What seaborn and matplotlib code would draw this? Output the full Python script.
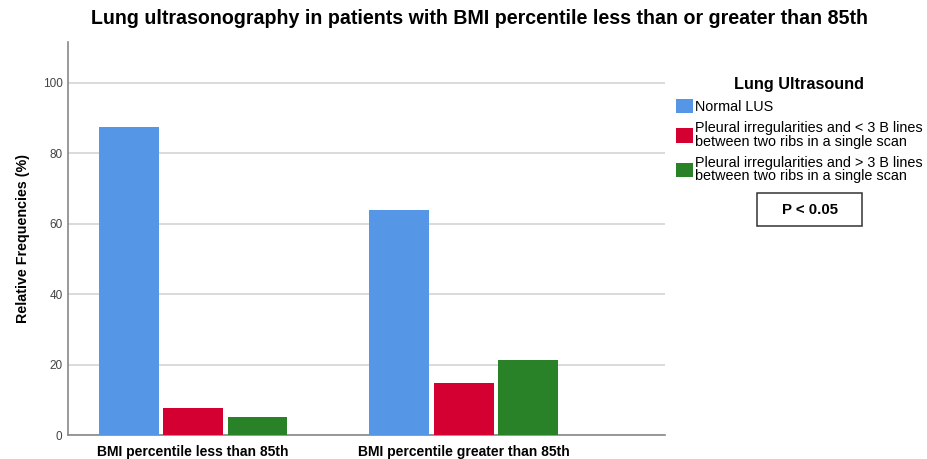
import matplotlib
matplotlib.use("Agg")
import matplotlib.pyplot as plt
import seaborn as sns
import pandas as pd
from matplotlib.patches import Patch, Rectangle

categories = ["BMI percentile less than 85th", "BMI percentile greater than 85th"]
series = ["Normal LUS",
          "Pleural irregularities and < 3 B lines\nbetween two ribs in a single scan",
          "Pleural irregularities and > 3 B lines\nbetween two ribs in a single scan"]
normal_lus = [87.3, 63.9]
less_3b = [7.6, 14.7]
more_3b = [5.0, 21.2]
colors = ["#5596E6", "#D50032", "#2A8228"]

rows = []
for s, vals in zip(series, [normal_lus, less_3b, more_3b]):
    for c, v in zip(categories, vals):
        rows.append({"BMI": c, "LUS": s, "pct": v})
df = pd.DataFrame(rows)

sns.set_style("white")
plt.rcParams["font.family"] = ["Liberation Sans", "DejaVu Sans"]
plt.rcParams["text.color"] = "black"

fig = plt.figure(figsize=(9.27, 4.59), dpi=100)
ax = fig.add_axes([68/927, 24/459, (665-68)/927, (435-42)/459])
ax.yaxis.grid(True, color="#d4d4d4", linewidth=1.2, zorder=0)
ax.set_axisbelow(True)
sns.barplot(data=df, x="BMI", y="pct", hue="LUS", order=categories, hue_order=series,
            palette=colors, saturation=1, width=0.714, gap=0.07, ax=ax, legend=False,
            edgecolor="none", zorder=3)
ax.set_xlim(-0.462, 1.743)
ax.set_ylim(0, 111.5)
ax.set_yticks([0, 20, 40, 60, 80, 100])
ax.tick_params(axis="y", labelsize=8.5, colors="#444444", length=0, pad=4)
ax.tick_params(axis="x", length=0, pad=7)
for lab in ax.get_xticklabels():
    lab.set_fontweight("bold")
    lab.set_fontsize(10)
    lab.set_color("black")
for side in ["top", "right"]:
    ax.spines[side].set_visible(False)
for side in ["left", "bottom"]:
    ax.spines[side].set_color("#888888")
    ax.spines[side].set_linewidth(1.2)
ax.set_xlabel("")
ax.set_ylabel("Relative Frequencies (%)", fontsize=10.3, fontweight="bold", labelpad=9,
              color="black")

fig.text(479.5/927, 1-19/459,
         "Lung ultrasonography in patients with BMI percentile less than or greater than 85th",
         ha="center", va="center", fontsize=14.1, fontweight="bold", color="black")

handles = [Patch(facecolor=c, edgecolor="none") for c in colors]
leg = fig.legend(handles, series, loc="upper left", bbox_to_anchor=(673/927, 1-74/459),
                 frameon=False, title="Lung Ultrasound", fontsize=10.4,
                 title_fontproperties={"weight": "bold", "size": 11.7},
                 handlelength=1.15, handleheight=1.15, handletextpad=0.15,
                 labelspacing=0.5, borderpad=0.2, borderaxespad=0)
leg._legend_box.align = "center"
for t in leg.get_texts():
    t.set_linespacing(0.92)

fig.patches.append(Rectangle((757/927, 1-226/459), 105/927, 33/459,
                             transform=fig.transFigure, facecolor="white",
                             edgecolor="#333333", linewidth=1.1))
fig.text(809.5/927, 1-210/459, "P < 0.05", ha="center", va="center", fontsize=10.8,
         fontweight="bold")
fig.savefig("out.png", dpi=100)
